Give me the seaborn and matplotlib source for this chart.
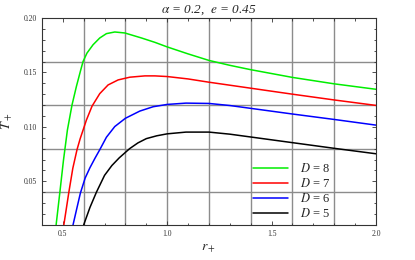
import numpy as np
import pandas as pd
import seaborn as sns
import matplotlib
matplotlib.use("Agg")
import matplotlib.pyplot as plt
from matplotlib.ticker import MultipleLocator

# values
r_d8 = [0.468, 0.486, 0.503, 0.522, 0.544, 0.565, 0.586, 0.597, 0.616, 0.645, 0.677, 0.709,
        0.749, 0.797, 0.877, 0.941, 1.000, 1.100, 1.200, 1.300, 1.400, 1.600, 1.800, 2.000]
t_d8 = [0.010, 0.040, 0.069, 0.097, 0.120, 0.137, 0.1523, 0.160, 0.1678, 0.1754, 0.1816, 0.1856,
        0.1871, 0.1862, 0.1816, 0.1776, 0.1734, 0.167, 0.161, 0.1565, 0.1525, 0.1454, 0.1395, 0.1345]

r_d7 = [0.505, 0.529, 0.548, 0.568, 0.583, 0.597, 0.613, 0.640, 0.677, 0.717, 0.765, 0.821,
        0.893, 0.941, 1.000, 1.100, 1.200, 1.400, 1.600, 1.800, 2.000]
t_d7 = [0.010, 0.040, 0.062, 0.079, 0.089, 0.097, 0.1062, 0.119, 0.1305, 0.1385, 0.1431, 0.1456,
        0.1468, 0.1468, 0.1462, 0.1440, 0.141, 0.1355, 0.130, 0.1247, 0.1197]

r_d6 = [0.549, 0.567, 0.584, 0.607, 0.630, 0.655, 0.677, 0.709, 0.749, 0.800, 0.869, 0.933,
        1.000, 1.090, 1.200, 1.300, 1.400, 1.600, 1.800, 2.000]
t_d6 = [0.010, 0.025, 0.039, 0.053, 0.0625, 0.0715, 0.079, 0.0905, 0.1003, 0.1079, 0.1145, 0.1185,
        0.1206, 0.1218, 0.1215, 0.1196, 0.117, 0.1118, 0.1068, 0.1016]

r_d5 = [0.600, 0.630, 0.661, 0.700, 0.735, 0.770, 0.820, 0.860, 0.900, 0.950, 1.000, 1.090,
        1.200, 1.300, 1.400, 1.600, 1.800, 2.000]
t_d5 = [0.010, 0.026, 0.040, 0.0555, 0.0645, 0.0715, 0.080, 0.0853, 0.0892, 0.0918, 0.0936, 0.0952,
        0.0952, 0.0933, 0.0907, 0.0855, 0.0803, 0.0753]

labels = ["$D$ = 8", "$D$ = 7", "$D$ = 6", "$D$ = 5"]
colors = ["#00ee00", "#ff0000", "#0000ff", "#000000"]

frames = []
for lab, r, t in zip(labels, [r_d8, r_d7, r_d6, r_d5], [t_d8, t_d7, t_d6, t_d5]):
    frames.append(pd.DataFrame({"r": r, "T": t, "D": lab}))
df = pd.concat(frames, ignore_index=True)

sns.set_style("ticks")
plt.rcParams["font.family"] = ["Liberation Serif", "DejaVu Serif"]
plt.rcParams["mathtext.fontset"] = "stix"

fig = plt.figure(figsize=(4.15, 2.6), dpi=100)
ax = fig.add_axes([0.101, 0.135, 0.805, 0.796])

# gray reference grid
for gx in [0.6, 0.8, 1.0, 1.2, 1.4, 1.6, 1.8]:
    ax.axvline(gx, color="#8c8c8c", lw=1.0, zorder=0)
for gy in [0.04, 0.08, 0.12, 0.16]:
    ax.axhline(gy, color="#8c8c8c", lw=1.0, zorder=0)

sns.lineplot(data=df, x="r", y="T", hue="D", palette=colors, sort=False,
             estimator=None, lw=1.1, ax=ax)

ax.set_xlim(0.4, 2.0)
ax.set_ylim(0.01, 0.20)
ax.xaxis.set_major_locator(MultipleLocator(0.5))
ax.xaxis.set_minor_locator(MultipleLocator(0.1))
ax.yaxis.set_major_locator(MultipleLocator(0.05))
ax.yaxis.set_minor_locator(MultipleLocator(0.01))
ax.xaxis.set_major_formatter(plt.FuncFormatter(lambda v, p: f"{v:.1f}"))
ax.yaxis.set_major_formatter(plt.FuncFormatter(lambda v, p: f"{v:.2f}"))
ax.tick_params(which="both", direction="in", top=True, right=True, labelsize=5.5,
               width=0.6, colors="#333333")
ax.tick_params(which="major", length=3)
ax.tick_params(which="minor", length=1.8)
for s in ax.spines.values():
    s.set_linewidth(0.8)
    s.set_color("#333333")

ax.set_xlabel("$r_+$", fontsize=10, labelpad=3)
ax.set_ylabel("$T_+$", fontsize=10, labelpad=6)
ax.set_title(r"$\alpha$ = 0.2,  $e$ = 0.45", fontsize=9.5, style="italic", pad=4)

ax.legend(loc="lower right", bbox_to_anchor=(0.885, -0.014), frameon=False, fontsize=9,
          handlelength=2.8, handletextpad=0.9, labelspacing=0.17, borderaxespad=0.2)

fig.savefig("out.png", dpi=100)
